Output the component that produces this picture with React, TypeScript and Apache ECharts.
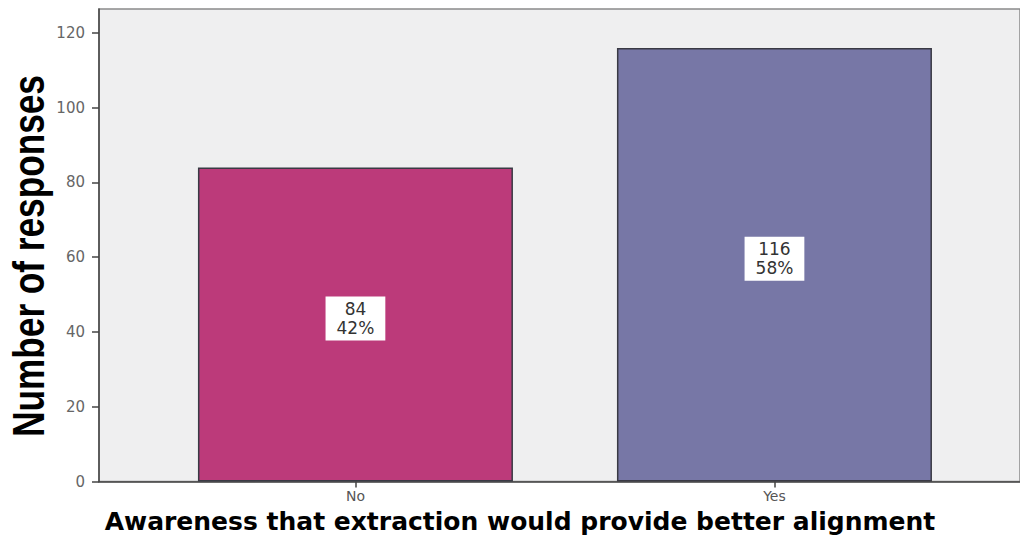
import React, { useEffect, useRef } from "react";
import * as echarts from "echarts";

const categories = ["No", "Yes"];
const counts = [84, 116];
const percents = ["42%", "58%"];
const yTicks = [0, 20, 40, 60, 80, 100, 120];
const barColors = ["#bc3a7a", "#7777a6"];
const yTitle = "Number of responses";
const xTitle = "Awareness that extraction would provide better alignment";

export default function App() {
  const ref = useRef<HTMLDivElement>(null);
  useEffect(() => {
    if (!ref.current) return;
    const chart = echarts.init(ref.current, null, { renderer: "svg" });
    chart.setOption({
      animation: false,
      backgroundColor: "#ffffff",
      grid: {
        left: 99,
        right: -2,
        top: 9,
        bottom: 53.5,
        show: true,
        backgroundColor: "#efeff0",
        borderColor: "#8a8a8a",
        borderWidth: 1.5,
      },
      xAxis: {
        type: "value",
        min: -0.612,
        max: 1.586,
        splitLine: { show: false },
        axisLine: { show: true, onZero: false, lineStyle: { color: "#444", width: 1.5 } },
        axisTick: { show: true, length: 6, customValues: [0, 1], lineStyle: { color: "#444", width: 1.5 } },
        axisLabel: {
          customValues: [0, 1],
          formatter: (v: number) => categories[Math.round(v)] ?? "",
          color: "#555",
          fontFamily: "DejaVu Sans",
          fontSize: 14,
          margin: 7,
        },
      },
      yAxis: {
        type: "value",
        min: 0,
        max: 126.4,
        splitLine: { show: false },
        axisLine: { show: true, onZero: false, lineStyle: { color: "#444", width: 1.5 } },
        axisTick: { show: true, length: 7, customValues: yTicks, lineStyle: { color: "#444", width: 1.5 } },
        axisLabel: {
          customValues: yTicks,
          color: "#666",
          fontFamily: "DejaVu Sans",
          fontSize: 15,
          margin: 14,
        },
      },
      graphic: [
        {
          type: "text",
          x: 29,
          y: 256,
          rotation: Math.PI / 2,
          scaleX: 0.8,
          style: {
            text: yTitle,
            fontFamily: "Liberation Sans",
            fontWeight: "bold",
            fontSize: 44,
            fill: "#000",
            textAlign: "center",
            textVerticalAlign: "middle",
          },
        },
        {
          type: "text",
          x: 520,
          y: 521,
          style: {
            text: xTitle,
            fontFamily: "DejaVu Sans",
            fontWeight: "bold",
            fontSize: 25,
            fill: "#000",
            textAlign: "center",
            textVerticalAlign: "middle",
          },
        },
      ],
      series: [
        {
          type: "bar",
          barWidth: 315,
          data: categories.map((c, i) => ({
            name: c,
            value: [i, counts[i]],
            itemStyle: { color: barColors[i], borderColor: "#3a3a44", borderWidth: 1.5 },
          })),
          label: {
            show: true,
            position: "inside",
            offset: [0, -6],
            formatter: (p: any) => `${counts[p.dataIndex]}\n${percents[p.dataIndex]}`,
            backgroundColor: "#ffffff",
            color: "#333",
            fontFamily: "DejaVu Sans",
            fontSize: 17,
            lineHeight: 19,
            padding: [3, 11],
            align: "center",
          },
        },
      ],
    });
    return () => chart.dispose();
  }, []);
  return (
    <div
      ref={ref}
      style={{ position: "fixed", left: 0, top: 0, width: 1020, height: 535 }}
    />
  );
}
